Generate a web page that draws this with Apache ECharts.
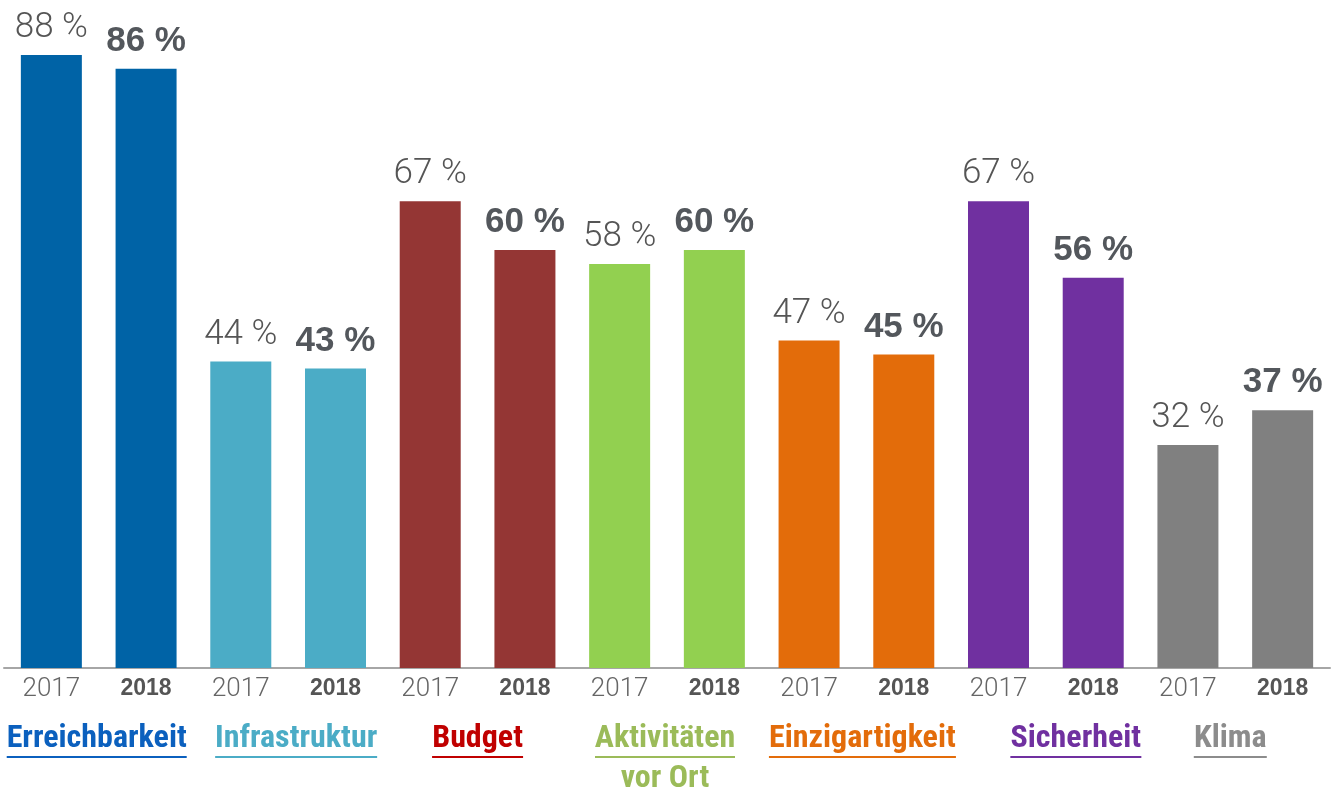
<!DOCTYPE html>
<html>
<head>
<meta charset="utf-8">
<script src="https://cdn.jsdelivr.net/npm/echarts@6/dist/echarts.min.js"></script>
<style>
  html, body { margin: 0; padding: 0; background: #fff; }
  #chart { width: 1335px; height: 793px; }
</style>
</head>
<body>
<div id="chart"></div>
<script>
// Daten
var years = ['2017', '2018'];
var categories = ['Erreichbarkeit', 'Infrastruktur', 'Budget', 'Aktivitäten\nvor Ort', 'Einzigartigkeit', 'Sicherheit', 'Klima'];
var values2017 = [88, 44, 67, 58, 47, 67, 32];
var values2018 = [86, 43, 60, 60, 45, 56, 37];
var barColors = ['#0063a6', '#4bacc6', '#943634', '#92d050', '#e36c0a', '#7030a0', '#808080'];
var textColors = ['#0b60be', '#4bacc6', '#c00000', '#9bbb59', '#e36c0a', '#7030a0', '#8c8c8c'];
// horizontale Verschiebung der Kategorienamen (px)
var labelShift = [-2, 8, 0, -2, 6, 30, -5];

var catFont = '"Roboto Condensed", "Liberation Sans Narrow", sans-serif';
var catSize = 32;

// Textbreite messen (für die Unterstreichung)
var ctx = document.createElement('canvas').getContext('2d');
ctx.font = 'bold ' + catSize + 'px ' + catFont;
function textWidth(s) { return Math.round(ctx.measureText(s).width); }

// 14 Balken: je Kategorie 2017 und 2018
var yearLabels = [];
var barData = [];
for (var i = 0; i < categories.length; i++) {
    yearLabels.push({ value: years[0], textStyle: { fontFamily: 'Roboto', fontWeight: 300, fontSize: 26, color: '#666' } });
    yearLabels.push({ value: years[1], textStyle: { fontFamily: '"Liberation Sans", Arial', fontWeight: 'bold', fontSize: 23, color: '#555' } });
    barData.push({
        value: values2017[i],
        itemStyle: { color: barColors[i] },
        label: { fontFamily: 'Roboto', fontWeight: 300, fontSize: 35, lineHeight: 35, color: '#555', distance: 9 }
    });
    barData.push({
        value: values2018[i],
        itemStyle: { color: barColors[i] },
        label: { fontFamily: '"Liberation Sans", Arial', fontWeight: 'bold', fontSize: 35, lineHeight: 35, color: '#53575c', distance: 10 }
    });
}

// Rich-Text-Stile für die Kategorien (mit Unterstreichung)
var rich = {};
categories.forEach(function (c, i) {
    var first = c.split('\n')[0];
    rich['t' + i] = { fontFamily: catFont, fontWeight: 'bold', fontSize: catSize, lineHeight: 34, color: textColors[i] };
    rich['v' + i] = { fontFamily: catFont, fontWeight: 'bold', fontSize: catSize, lineHeight: 34, color: textColors[i], padding: [8, 0, 0, 0] };
    rich['u' + i] = { backgroundColor: textColors[i], width: textWidth(first), height: 2, lineHeight: 2 };
    rich['s' + i] = { width: Math.abs(labelShift[i]) * 2, height: 1 };
});

function shifted(seg, index) {
    var sp = '{s' + index + '|}';
    return labelShift[index] >= 0 ? sp + seg : seg + sp;
}

var chart = echarts.init(document.getElementById('chart'));
var option = {
    animation: false,
    grid: { left: 4, right: 5, top: 41, bottom: 125, outerBoundsMode: 'none', containLabel: false },
    xAxis: [{
        type: 'category',
        data: yearLabels,
        axisLine: { lineStyle: { color: '#a6a6a6', width: 2 } },
        axisTick: { show: false },
        axisLabel: { interval: 0, margin: 8, lineHeight: 26 }
    }, {
        type: 'category',
        data: categories,
        position: 'bottom',
        axisLine: { show: false },
        axisTick: { show: false },
        axisLabel: {
            interval: 0,
            margin: 54,
            formatter: function (value, index) {
                var lines = value.split('\n');
                var s = shifted('{t' + index + '|' + lines[0] + '}', index) + '\n' + shifted('{u' + index + '|}', index);
                for (var k = 1; k < lines.length; k++) {
                    s += '\n' + shifted('{v' + index + '|' + lines[k] + '}', index);
                }
                return s;
            },
            rich: rich
        }
    }],
    yAxis: {
        type: 'value',
        min: 0,
        max: 90,
        show: false,
        splitLine: { show: false }
    },
    series: [{
        type: 'bar',
        xAxisIndex: 0,
        barWidth: 61,
        data: barData,
        label: {
            show: true,
            position: 'top',
            formatter: '{c} %'
        }
    }]
};
chart.setOption(option);
</script>
</body>
</html>
